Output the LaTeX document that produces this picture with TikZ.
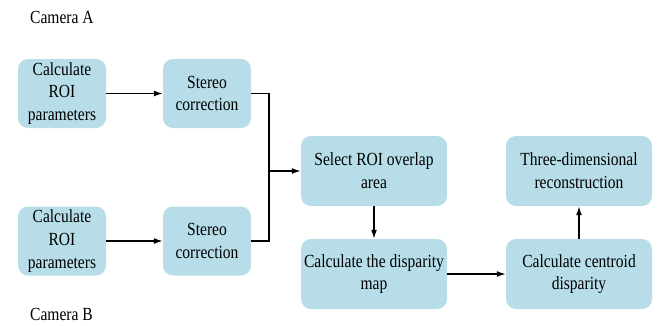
\documentclass[tikz,border=0pt]{standalone}
\usepackage{fontspec}
\setmainfont[FakeStretch=0.84]{Liberation Serif}
\usetikzlibrary{arrows.meta}
\definecolor{boxfill}{RGB}{183,221,232}
\tikzset{
  box/.style={fill=boxfill, draw=none, rounded corners=10pt, align=center,
    font=\fontsize{18.5}{22.7}\selectfont, inner sep=0pt},
  smallbox/.style={box, minimum width=88pt, minimum height=69pt},
  bigbox/.style={box, minimum width=146pt, minimum height=70pt},
  conn/.style={line width=1.4pt, black},
  arr/.style={conn, -{Latex[length=9pt,width=6pt]}},
  lbl/.style={font=\fontsize{18.5}{22}\selectfont, anchor=west, inner sep=0pt}
}
\begin{document}
\begin{tikzpicture}[x=1pt,y=-1pt]
\useasboundingbox (0,0) rectangle (660,325);
\node[lbl] (camA) at (30,17) {Camera A};
\node[lbl] (camB) at (30,314.5) {Camera B};
\node[smallbox] (roiA) at (62,93.5) {Calculate\\ROI\\parameters};
\node[smallbox] (stA) at (207,93.5) {Stereo\\correction};
\node[smallbox] (roiB) at (62,241) {Calculate\\ROI\\parameters};
\node[smallbox] (stB) at (207,241) {Stereo\\correction};
\node[bigbox] (sel) at (374,171) {Select ROI overlap\\area};
\node[bigbox] (disp) at (374,274) {Calculate the disparity\\map};
\node[bigbox] (cent) at (579,274) {Calculate centroid\\disparity};
\node[bigbox] (recon) at (579,171) {Three-dimensional\\reconstruction};
\coordinate (j) at (269,171);
\draw[arr] (roiA) -- (stA);
\draw[arr] (roiB) -- (stB);
\draw[conn] (stA.east) -| (j);
\draw[conn] (stB.east) -| (j);
\draw[arr] (j) -- (sel.west);
\draw[arr] (sel) -- (disp);
\draw[arr] (disp) -- (cent);
\draw[arr] (cent) -- (recon);
\end{tikzpicture}
\end{document}
